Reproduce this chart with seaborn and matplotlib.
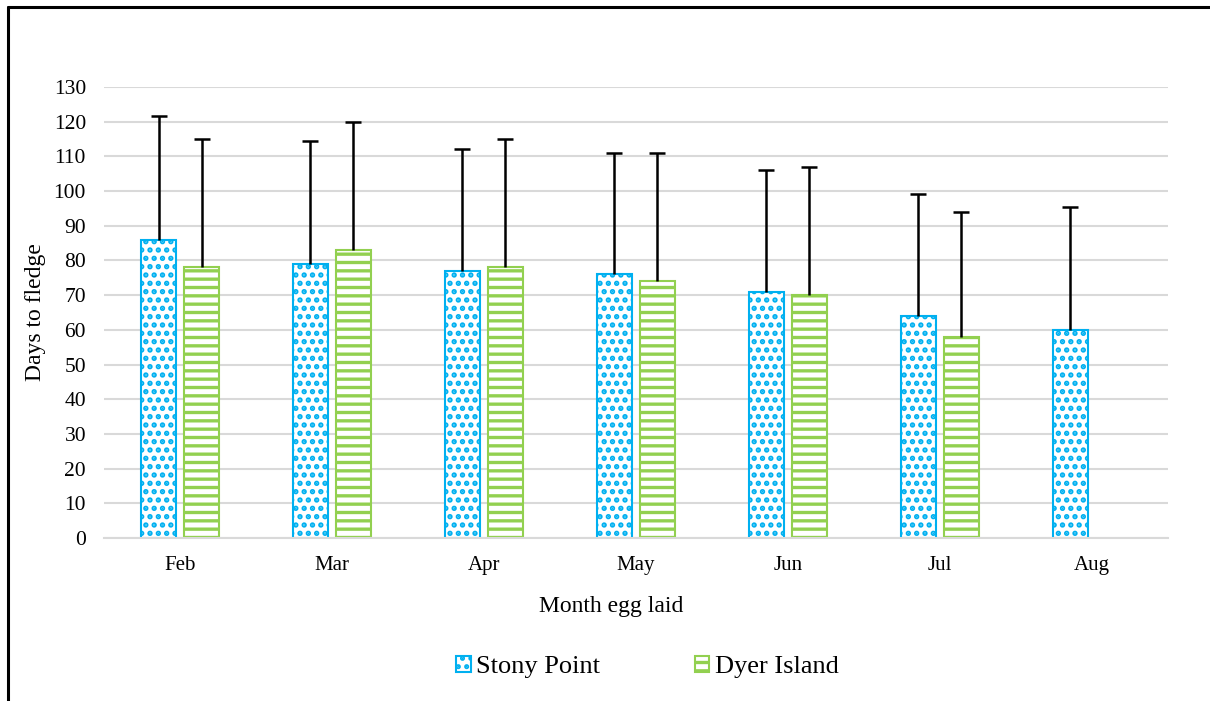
"""
Days to fledge by month egg laid, Stony Point vs Dyer Island.
"""

import numpy as np
import pandas as pd
import matplotlib.pyplot as plt
import seaborn as sns
from matplotlib.lines import Line2D
from matplotlib.patches import Patch

months = ['Feb', 'Mar', 'Apr', 'May', 'Jun', 'Jul', 'Aug']
sites = ['Stony Point', 'Dyer Island']
stony_mean = [86, 79, 77, 76, 71, 64, 60]
dyer_mean = [78, 83, 78, 74, 70, 58, np.nan]
stony_err = [35.5, 35.5, 35, 35, 35, 35, 35.5]
dyer_err = [37, 37, 37, 37, 37, 36, np.nan]

colors = {'Stony Point': '#00B0F0', 'Dyer Island': '#92D050'}
hatches = {'Stony Point': '..', 'Dyer Island': '--'}
hatch_lw = {'Stony Point': 2.6, 'Dyer Island': 2.4}
errs = {'Stony Point': stony_err, 'Dyer Island': dyer_err}

df = pd.DataFrame({
    'month': months * 2,
    'site': [sites[0]] * len(months) + [sites[1]] * len(months),
    'days': stony_mean + dyer_mean,
})

sns.set_style('white')
plt.rcParams['font.family'] = ['Liberation Serif', 'DejaVu Serif']
plt.rcParams['hatch.linewidth'] = 2.4
plt.rcParams['text.color'] = 'black'
plt.rcParams['axes.labelcolor'] = 'black'
plt.rcParams['xtick.color'] = 'black'
plt.rcParams['ytick.color'] = 'black'

fig = plt.figure(figsize=(12.1, 7.01), dpi=100)
ax = fig.add_axes([0.086, 0.2325, 0.879, 0.6435])

sns.barplot(data=df, x='month', y='days', hue='site', order=months,
            hue_order=sites, width=0.566, gap=0.19, ax=ax, legend=False)


def style_patch(patch, site):
    patch.set_facecolor('white')
    patch.set_edgecolor(colors[site])
    patch.set_hatch(hatches[site])
    patch.set_linewidth(1.5)
    if hasattr(patch, 'set_hatch_linewidth'):
        patch.set_hatch_linewidth(hatch_lw[site])


for container, site in zip(ax.containers, sites):
    for patch in container:
        h = patch.get_height()
        if not np.isfinite(h) or h == 0:
            continue
        style_patch(patch, site)
        xc = patch.get_x() + patch.get_width() / 2
        idx = int(round(xc))
        _, caps, _ = ax.errorbar(xc, h, yerr=[[0], [errs[site][idx]]],
                                 fmt='none', ecolor='black', elinewidth=1.8,
                                 capsize=6, capthick=1.8, zorder=3)
        caps[0].set_visible(False)

ax.set_ylim(0, 130)
ax.set_xlim(-0.5, len(months) - 0.5)
ax.set_yticks(range(0, 131, 10))
ax.yaxis.grid(True, color='#D9D9D9', linewidth=1.5)
ax.set_axisbelow(True)
for side in ['left', 'right', 'top']:
    ax.spines[side].set_visible(False)
ax.spines['bottom'].set_color('#D9D9D9')
ax.spines['bottom'].set_linewidth(1.5)
ax.tick_params(axis='y', length=0, labelsize=15.5, pad=13)
ax.tick_params(axis='x', length=0, labelsize=15, pad=13)
ax.set_xlabel('Month egg laid', fontsize=17)
ax.set_ylabel('Days to fledge', fontsize=17)
ax.xaxis.set_label_coords(0.477, -0.128)
ax.yaxis.set_label_coords(-0.055, 0.5)

handles = []
for s in sites:
    hp = Patch(label=s)
    style_patch(hp, s)
    handles.append(hp)
fig.legend(handles=handles, loc='center', bbox_to_anchor=(0.535, 0.048),
           ncol=2, frameon=False, fontsize=19, handlelength=0.55,
           handleheight=0.55, handletextpad=0.2, columnspacing=3.6)

# frame around the figure (top and left edges visible in the original)
fig.add_artist(Line2D([0.007, 0.007], [0, 0.99], color='black', lw=2.2,
                      transform=fig.transFigure))
fig.add_artist(Line2D([0.007, 1], [0.99, 0.99], color='black', lw=2.2,
                      transform=fig.transFigure))

fig.savefig('out.png', dpi=100, facecolor='white')
